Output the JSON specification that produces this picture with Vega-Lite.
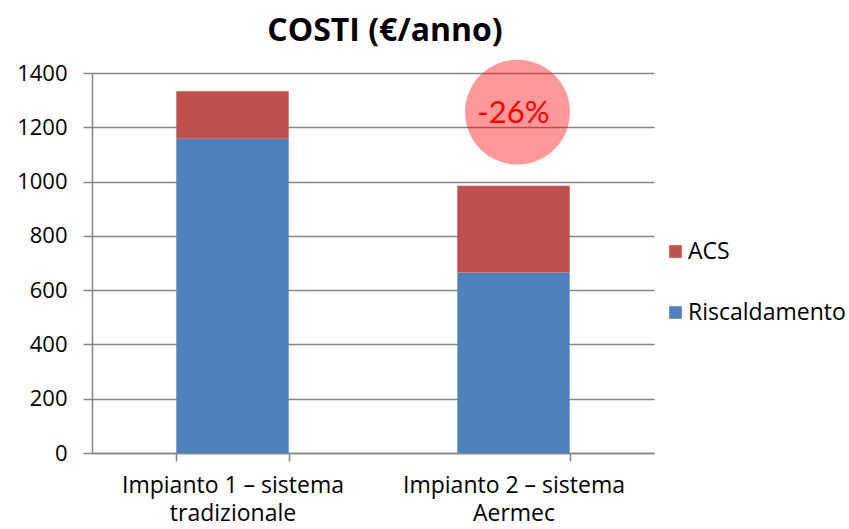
{
  "$schema": "https://vega.github.io/schema/vega-lite/v6.json",
  "width": 562,
  "height": 380,
  "autosize": {"type": "none"},
  "padding": {"left": 92, "top": 73, "right": 195, "bottom": 76},
  "background": "white",
  "config": {
    "font": "Open Sans",
    "view": {"stroke": null},
    "axis": {"labelFont": "Open Sans", "labelFontSize": 22, "labelColor": "#000000", "domainColor": "#868686", "tickColor": "#868686", "gridColor": "#868686", "domainWidth": 1.5, "tickWidth": 1.5, "gridWidth": 1.5}
  },
  "title": {"text": "COSTI (€/anno)", "fontSize": 32, "font": "Open Sans", "fontWeight": "bold", "color": "#000000", "anchor": "middle", "dx": 12, "offset": 12},
  "datasets": {
    "costi": [
      {"impianto": "Impianto 1 – sistema|tradizionale", "componente": "Riscaldamento", "costo": 1158},
      {"impianto": "Impianto 1 – sistema|tradizionale", "componente": "ACS", "costo": 175},
      {"impianto": "Impianto 2 – sistema|Aermec", "componente": "Riscaldamento", "costo": 665},
      {"impianto": "Impianto 2 – sistema|Aermec", "componente": "ACS", "costo": 320}
    ],
    "nota": [
      {"impianto": "Impianto 2 – sistema|Aermec", "valore": 1256, "testo": "-26%"}
    ]
  },
  "layer": [
    {
      "data": {"name": "costi"},
      "mark": {"type": "bar"},
      "encoding": {
        "x": {"field": "impianto", "type": "nominal", "sort": null,
          "scale": {"paddingInner": 0.6, "paddingOuter": 0.3},
          "axis": {"title": null, "labelAngle": 0, "labelExpr": "split(datum.label, '|')", "labelFontSize": 23, "labelLineHeight": 28.5, "labelPadding": 13, "labelLimit": 0, "tickBand": "extent", "tickSize": 8, "labelBaseline": "top"}},
        "y": {"field": "costo", "type": "quantitative", "stack": "zero",
          "scale": {"domain": [0, 1400], "nice": false},
          "axis": {"title": null, "values": [0, 200, 400, 600, 800, 1000, 1200, 1400], "format": "d", "grid": true, "tickSize": 9, "labelPadding": 16}},
        "color": {"field": "componente", "type": "nominal",
          "scale": {"domain": ["ACS", "Riscaldamento"], "range": ["#C0504D", "#4F81BD"]},
          "legend": {"title": null, "orient": "none", "legendX": 572, "legendY": 167, "symbolType": "square", "symbolSize": 160, "labelFontSize": 23, "labelFont": "Open Sans", "labelColor": "#000000", "rowPadding": 37, "labelOffset": 1, "symbolStrokeWidth": 0, "labelLimit": 0}},
        "order": {"field": "componente", "sort": "descending"}
      }
    },
    {
      "data": {"name": "nota"},
      "mark": {"type": "point", "shape": "circle", "filled": true, "color": "#FF0000", "opacity": 0.4, "size": 11000, "xOffset": 4},
      "encoding": {
        "x": {"field": "impianto", "type": "nominal", "sort": null},
        "y": {"field": "valore", "type": "quantitative"}
      }
    },
    {
      "data": {"name": "nota"},
      "mark": {"type": "text", "color": "#FF0000", "fontSize": 31, "font": "Lato", "align": "center", "baseline": "middle", "dy": 2},
      "encoding": {
        "x": {"field": "impianto", "type": "nominal", "sort": null},
        "y": {"field": "valore", "type": "quantitative"},
        "text": {"field": "testo"}
      }
    }
  ]
}
